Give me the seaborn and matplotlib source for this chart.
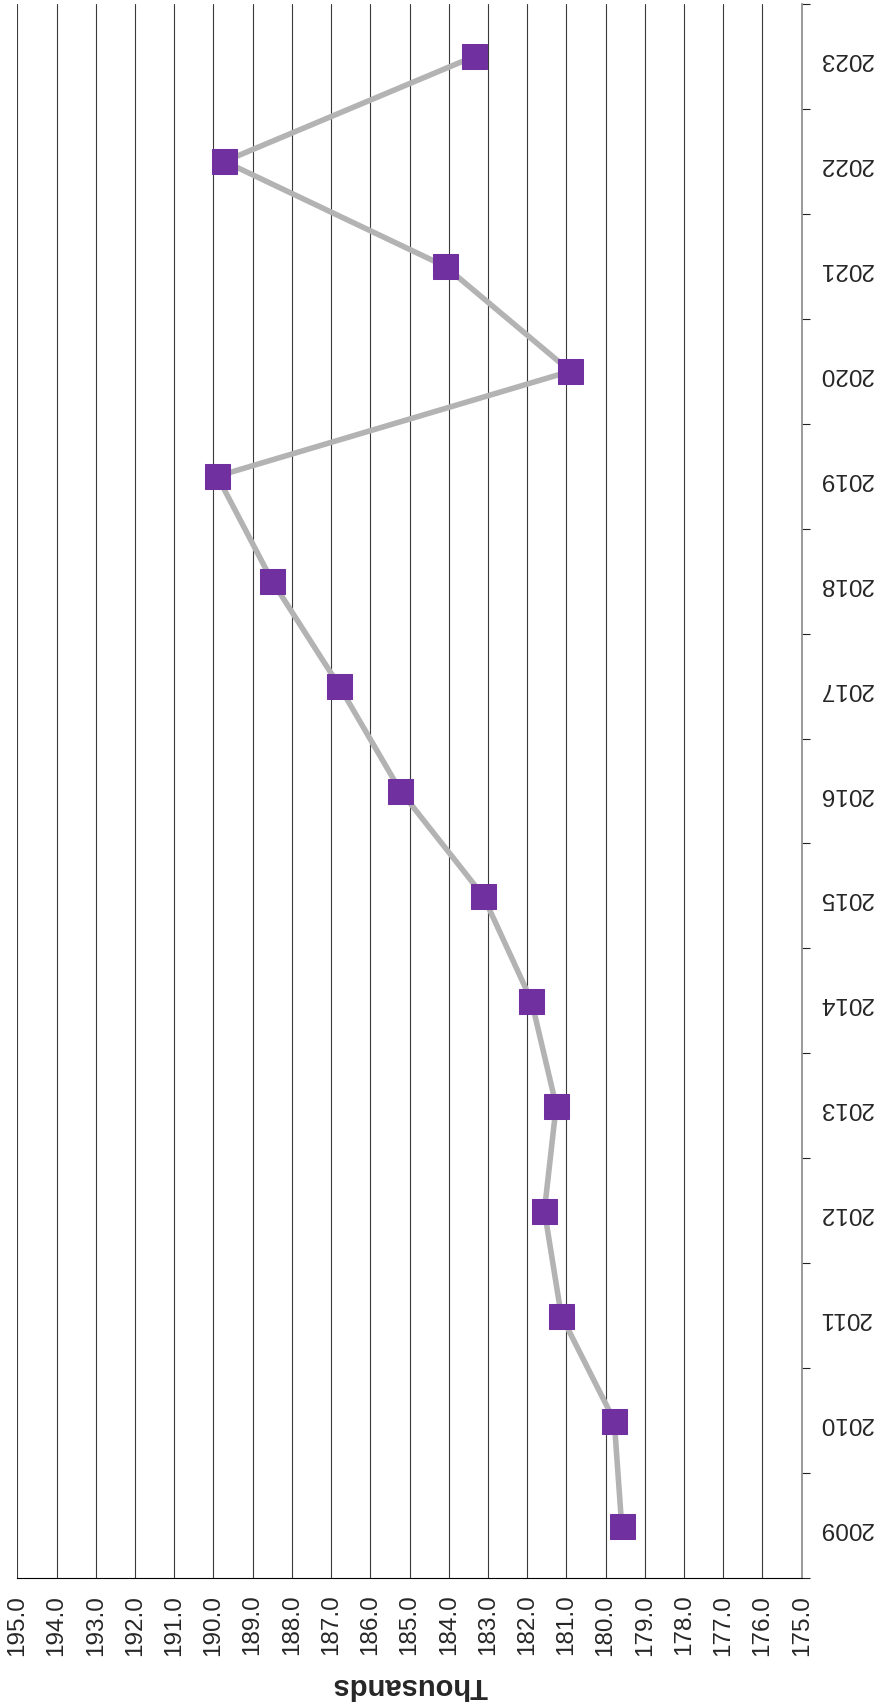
import pandas as pd
import seaborn as sns
import matplotlib.pyplot as plt
import numpy as np
from matplotlib.ticker import FixedLocator, FixedFormatter

# Data (values in thousands)
years = [2009, 2010, 2011, 2012, 2013, 2014, 2015, 2016,
         2017, 2018, 2019, 2020, 2021, 2022, 2023]
values = [179.59, 179.78, 181.13, 181.56, 181.26, 181.89, 183.12, 185.23,
          186.79, 188.50, 189.90, 180.90, 184.09, 189.72, 183.35]
value_ticks = [175.0, 176.0, 177.0, 178.0, 179.0, 180.0, 181.0, 182.0, 183.0, 184.0,
               185.0, 186.0, 187.0, 188.0, 189.0, 190.0, 191.0, 192.0, 193.0, 194.0, 195.0]
axis_title = "Thousands"

df = pd.DataFrame({"year": years, "value": values})

sns.set_style("white")
plt.rcParams["font.family"] = ["Liberation Sans", "DejaVu Sans"]

fig = plt.figure(figsize=(8.75, 17.04), dpi=100)
ax = fig.add_axes([17.3 / 875, 126 / 1704, (801.7 - 17.3) / 875, (1578 - 4) / 1704])

# grid lines behind the series
ax.set_axisbelow(True)
ax.grid(axis="x", color="#3a3a3a", linewidth=0.8)
ax.grid(axis="y", visible=False)

sns.lineplot(data=df, x="value", y="year", sort=False, ax=ax,
             color="#b3b3b3", linewidth=4,
             marker="s", markersize=18,
             markerfacecolor="#7030a0", markeredgecolor="#7030a0")

# value axis (reversed, rotated labels)
ax.set_xlim(195, 175)
ax.set_xticks(value_ticks)
ax.set_xticklabels([f"{v:.1f}" for v in value_ticks], rotation=90, fontsize=17.5)
ax.tick_params(axis="x", direction="out", length=5, width=0.8, color="#000000", pad=7)

# category axis on the right, labels upside down
ax.set_ylim(min(years) - 0.5, max(years) + 0.5)
ax.yaxis.tick_right()
ax.yaxis.set_major_locator(FixedLocator(np.arange(min(years) - 0.5, max(years) + 1, 1.0)))
ax.yaxis.set_major_formatter(FixedFormatter([""] * (len(years) + 1)))
ax.yaxis.set_minor_locator(FixedLocator(years))
ax.yaxis.set_minor_formatter(FixedFormatter([str(y) for y in years]))
ax.tick_params(axis="y", which="major", direction="out", length=6, width=0.8,
               color="#222222", right=True, left=False)
ax.tick_params(axis="y", which="minor", length=0, pad=12, labelsize=17.5,
               right=True, left=False, labelright=True, labelleft=False)
for lab in ax.yaxis.get_minorticklabels():
    lab.set_rotation(180)

ax.set_ylabel("")
ax.set_xlabel(axis_title, fontsize=21, fontweight="bold", rotation=180)
ax.xaxis.set_label_coords(0.5, -0.0685)
ax.xaxis.label.set_verticalalignment("center")

for side in ["left", "top"]:
    ax.spines[side].set_visible(False)
ax.spines["right"].set_color("#8a8a8a")
ax.spines["right"].set_linewidth(1.2)
ax.spines["bottom"].set_color("#000000")
ax.spines["bottom"].set_linewidth(0.8)

plt.savefig("out.png", dpi=100)
